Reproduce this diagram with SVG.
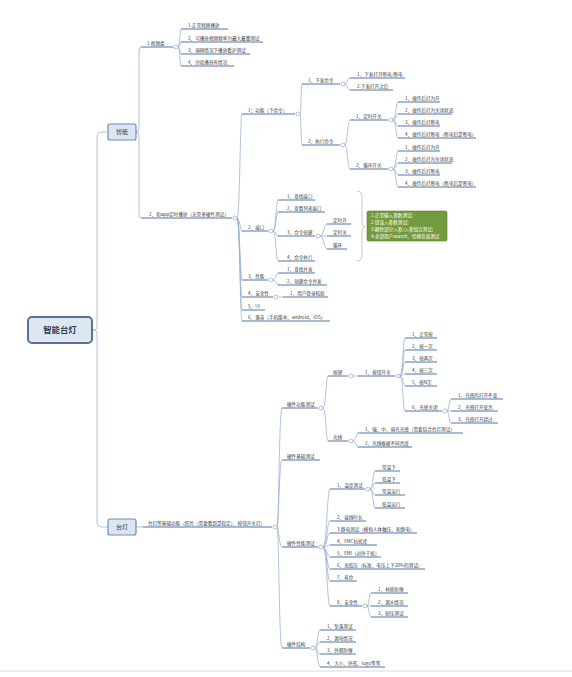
<svg xmlns="http://www.w3.org/2000/svg" width="572" height="677" viewBox="0 0 572 677">
<defs>
<style>
.t{font-family:"Noto Sans CJK SC","Liberation Sans",sans-serif;font-size:4.6px;fill:#3a3a3a}
.u{stroke:#4f74ad;stroke-width:1;fill:none}
.c{stroke:#9db2d3;stroke-width:0.8;fill:none}
.m{fill:#fff;stroke:#8a9bb5;stroke-width:0.6}
.box{fill:#dce6f3;stroke:#6f8bb3;stroke-width:1.2}
.bt{font-family:"Noto Sans CJK SC","Liberation Sans",sans-serif;font-size:6px;fill:#2f3f55;text-anchor:middle}
.ct{font-family:"Noto Sans CJK SC","Liberation Sans",sans-serif;font-size:4.6px;fill:#ffffff}
</style>
</defs>
<rect width="572" height="677" fill="#ffffff"/>
<g id="connectors">
<path class="c" d="M92,330 L94,330 Q97,330 97,326 L97,137 Q97,132 102,132 L108,132"/>
<path class="c" d="M92,330 L94,330 Q97,330 97,334 L97,522 Q97,527 102,527 L108,527"/>
<path class="c" d="M136,132 Q139,132 139,128 L139,51 Q139,47 141,47"/>
<path class="c" d="M136,132 Q139,132 139,136 L139,214 Q139,218 141,218"/>
<path class="c" d="M136,527 L143,527"/>
<path class="c" d="M178,47 C180,47 180,29 181,29"/>
<path class="c" d="M178,47 C180,47 180,42 181,42"/>
<path class="c" d="M178,47 C180,47 180,54 181,54"/>
<path class="c" d="M178,47 C180,47 180,66 181,66"/>
<path class="c" d="M237,218 C240,218 240,114 242,114"/>
<path class="c" d="M237,218 C240,218 240,231 242,231"/>
<path class="c" d="M237,218 C240,218 240,280 242,280"/>
<path class="c" d="M237,218 C240,218 240,297 242,297"/>
<path class="c" d="M237,218 C240,218 240,310 242,310"/>
<path class="c" d="M237,218 C240,218 240,321 242,321"/>
<path class="c" d="M300,114 C301,114 301,84 302,84"/>
<path class="c" d="M300,114 C301,114 301,145 302,145"/>
<path class="c" d="M345,84 C347.5,84 347.5,78 350,78"/>
<path class="c" d="M345,84 C347.5,84 347.5,90 350,90"/>
<path class="c" d="M345,145 C347.5,145 347.5,120 350,120"/>
<path class="c" d="M345,145 C347.5,145 347.5,169 350,169"/>
<path class="c" d="M393,120 C396,120 396,102 398,102"/>
<path class="c" d="M393,120 C396,120 396,114 398,114"/>
<path class="c" d="M393,120 C396,120 396,126 398,126"/>
<path class="c" d="M393,120 C396,120 396,138 398,138"/>
<path class="c" d="M393,169 C396,169 396,151 398,151"/>
<path class="c" d="M393,169 C396,169 396,163 398,163"/>
<path class="c" d="M393,169 C396,169 396,175 398,175"/>
<path class="c" d="M393,169 C396,169 396,187 398,187"/>
<path class="c" d="M273,231 C276,231 276,200 278,200"/>
<path class="c" d="M273,231 C276,231 276,212 278,212"/>
<path class="c" d="M273,231 C276,231 276,236 278,236"/>
<path class="c" d="M273,231 C276,231 276,261 278,261"/>
<path class="c" d="M320,236 C324,236 324,224 327,224"/>
<path class="c" d="M320,236 C324,236 324,236 327,236"/>
<path class="c" d="M320,236 C324,236 324,249 327,249"/>
<path class="c" d="M273,280 C276,280 276,273 278,273"/>
<path class="c" d="M273,280 C276,280 276,285 278,285"/>
<path class="c" d="M278,297 L283,297"/>
<path class="c" d="M277,527 C279,527 279,408 282,408"/>
<path class="c" d="M277,527 C279,527 279,460 282,460"/>
<path class="c" d="M277,527 C279,527 279,547 282,547"/>
<path class="c" d="M277,527 C279,527 279,648 282,648"/>
<path class="c" d="M323,408 C326,408 326,376 328,376"/>
<path class="c" d="M323,408 C326,408 326,441 328,441"/>
<path class="c" d="M353,376 L358,376"/>
<path class="c" d="M400,376 C403,376 403,338 405,338"/>
<path class="c" d="M400,376 C403,376 403,350 405,350"/>
<path class="c" d="M400,376 C403,376 403,362 405,362"/>
<path class="c" d="M400,376 C403,376 403,374 405,374"/>
<path class="c" d="M400,376 C403,376 403,386 405,386"/>
<path class="c" d="M400,376 C403,376 403,411 405,411"/>
<path class="c" d="M447,411 C449,411 449,399 451,399"/>
<path class="c" d="M447,411 C449,411 449,411 451,411"/>
<path class="c" d="M447,411 C449,411 449,423 451,423"/>
<path class="c" d="M353,441 C356,441 356,433 358,433"/>
<path class="c" d="M353,441 C356,441 356,447 358,447"/>
<path class="c" d="M323,547 C327,547 327,489 330,489"/>
<path class="c" d="M323,547 C327,547 327,521 330,521"/>
<path class="c" d="M323,547 C327,547 327,533 330,533"/>
<path class="c" d="M323,547 C327,547 327,545 330,545"/>
<path class="c" d="M323,547 C327,547 327,557 330,557"/>
<path class="c" d="M323,547 C327,547 327,569 330,569"/>
<path class="c" d="M323,547 C327,547 327,581 330,581"/>
<path class="c" d="M323,547 C327,547 327,606 330,606"/>
<path class="c" d="M370,489 C373,489 373,471 375,471"/>
<path class="c" d="M370,489 C373,489 373,483 375,483"/>
<path class="c" d="M370,489 C373,489 373,495 375,495"/>
<path class="c" d="M370,489 C373,489 373,508 375,508"/>
<path class="c" d="M367,606 C369,606 369,593 371,593"/>
<path class="c" d="M367,606 C369,606 369,606 371,606"/>
<path class="c" d="M367,606 C369,606 369,617 371,617"/>
<path class="c" d="M315,648 C317.5,648 317.5,630 320,630"/>
<path class="c" d="M315,648 C317.5,648 317.5,642 320,642"/>
<path class="c" d="M315,648 C317.5,648 317.5,654 320,654"/>
<path class="c" d="M315,648 C317.5,648 317.5,667 320,667"/>
</g>
<g id="root"><rect x="28" y="317" width="64" height="26" rx="4" fill="#dde7f2" stroke="#5b7391" stroke-width="2"/><text x="60" y="333" class="bt" style="font-size:8.4px;font-weight:bold">智能台灯</text></g>
<g id="zhineng"><rect x="108" y="124" width="28" height="16" rx="2" class="box"/><text x="122" y="134.2" class="bt">智能</text></g>
<g id="taideng"><rect x="108" y="519" width="28" height="16" rx="2" class="box"/><text x="122" y="529.2" class="bt">台灯</text></g>
<g id="video"><text x="147" y="44.6" class="t">1.视频类</text><line class="u" x1="141" y1="47" x2="173" y2="47"/><circle class="m" cx="176" cy="47" r="2"/></g>
<g id="v1"><text x="188" y="26.6" class="t">1.正常视频播放</text><line class="u" x1="181" y1="29" x2="228" y2="29"/></g>
<g id="v2"><text x="188" y="39.6" class="t">2、可播放视频频率为最大最重测试</text><line class="u" x1="181" y1="42" x2="263" y2="42"/></g>
<g id="v3"><text x="188" y="51.6" class="t">3、弱网情况下播放看护测试</text><line class="u" x1="181" y1="54" x2="250" y2="54"/></g>
<g id="v4"><text x="188" y="63.6" class="t">4、分段播放有情况</text><line class="u" x1="181" y1="66" x2="234" y2="66"/></g>
<g id="app"><text x="149" y="215.6" class="t">2、和app定时播放（无需多硬件测试）</text><line class="u" x1="141" y1="218" x2="232" y2="218"/><circle class="m" cx="235" cy="218" r="2"/></g>
<g id="func"><text x="248" y="111.6" class="t">1：功能（下命令）</text><line class="u" x1="242" y1="114" x2="295" y2="114"/><circle class="m" cx="298" cy="114" r="2"/></g>
<g id="cmd"><text x="308" y="81.6" class="t">1、下发命令</text><line class="u" x1="302" y1="84" x2="340" y2="84"/><circle class="m" cx="343" cy="84" r="2"/></g>
<g id="c1"><text x="357" y="75.6" class="t">1、下发打开断电/断电</text><line class="u" x1="350" y1="78" x2="405" y2="78"/></g>
<g id="c2"><text x="357" y="87.6" class="t">2.下发打开之后</text><line class="u" x1="350" y1="90" x2="393" y2="90"/></g>
<g id="exec"><text x="308" y="142.6" class="t">2、执行命令</text><line class="u" x1="302" y1="145" x2="340" y2="145"/><circle class="m" cx="343" cy="145" r="2"/></g>
<g id="timer"><text x="356" y="117.6" class="t">1、定时开关</text><line class="u" x1="350" y1="120" x2="388" y2="120"/><circle class="m" cx="391" cy="120" r="2"/></g>
<g id="t1"><text x="405" y="99.6" class="t">1、操作后打为开</text><line class="u" x1="398" y1="102" x2="440" y2="102"/></g>
<g id="t2"><text x="405" y="111.6" class="t">2、操作后打为关闭状态</text><line class="u" x1="398" y1="114" x2="452" y2="114"/></g>
<g id="t3"><text x="405" y="123.6" class="t">3、操作后打断电</text><line class="u" x1="398" y1="126" x2="440" y2="126"/></g>
<g id="t4"><text x="405" y="135.6" class="t">4、操作后打断电（断电后是断电）</text><line class="u" x1="398" y1="138" x2="476" y2="138"/></g>
<g id="loop"><text x="356" y="166.6" class="t">2、循环开关</text><line class="u" x1="350" y1="169" x2="388" y2="169"/><circle class="m" cx="391" cy="169" r="2"/></g>
<g id="l1"><text x="405" y="148.6" class="t">1、操作后打为开</text><line class="u" x1="398" y1="151" x2="440" y2="151"/></g>
<g id="l2"><text x="405" y="160.6" class="t">2、操作后打为关闭状态</text><line class="u" x1="398" y1="163" x2="452" y2="163"/></g>
<g id="l3"><text x="405" y="172.6" class="t">3、操作后打断电</text><line class="u" x1="398" y1="175" x2="440" y2="175"/></g>
<g id="l4"><text x="405" y="184.6" class="t">4、操作后打断电（断电后是断电）</text><line class="u" x1="398" y1="187" x2="476" y2="187"/></g>
<g id="api"><text x="248" y="228.6" class="t">2、接口</text><line class="u" x1="242" y1="231" x2="268" y2="231"/><circle class="m" cx="271" cy="231" r="2"/></g>
<g id="a1"><text x="287" y="197.6" class="t">1、查找接口</text><line class="u" x1="278" y1="200" x2="315" y2="200"/></g>
<g id="a2"><text x="287" y="209.6" class="t">2、查看列表接口</text><line class="u" x1="278" y1="212" x2="325" y2="212"/></g>
<g id="a3"><text x="287" y="233.6" class="t">3、命令创建</text><line class="u" x1="278" y1="236" x2="315" y2="236"/><circle class="m" cx="318" cy="236" r="2"/></g>
<g id="a3a"><text x="333" y="221.6" class="t">定时开</text><line class="u" x1="327" y1="224" x2="351" y2="224"/></g>
<g id="a3b"><text x="333" y="233.6" class="t">定时关</text><line class="u" x1="327" y1="236" x2="351" y2="236"/></g>
<g id="a3c"><text x="333" y="246.6" class="t">循环</text><line class="u" x1="327" y1="249" x2="347" y2="249"/></g>
<g id="a4"><text x="287" y="258.6" class="t">4、命令执行</text><line class="u" x1="278" y1="261" x2="315" y2="261"/></g>
<g id="callout">
<path d="M357,191 Q362,191 362,197 L362,222 Q362,227 365,227 Q362,227 362,232 L362,255 Q362,261 357,261" fill="none" stroke="#c8c8c8" stroke-width="1"/>
<rect x="367" y="211" width="80" height="30" rx="1.5" fill="#739a3c" stroke="#5d7f2e" stroke-width="0.6"/>
<text x="371" y="216.6" class="ct">1.正常输入参数测试;</text>
<text x="371" y="223.6" class="ct">2.错误入参数测试;</text>
<text x="371" y="230.6" class="ct">3.删除部分入参/入参组合测试;</text>
<text x="371" y="237.6" class="ct">4.全部用户search、切换页面测试</text>
</g>
<g id="perf"><text x="248" y="277.6" class="t">3、性能</text><line class="u" x1="242" y1="280" x2="268" y2="280"/><circle class="m" cx="271" cy="280" r="2"/></g>
<g id="p1"><text x="287" y="270.6" class="t">1、查找并发</text><line class="u" x1="278" y1="273" x2="315" y2="273"/></g>
<g id="p2"><text x="287" y="282.6" class="t">2、创建命令并发</text><line class="u" x1="278" y1="285" x2="327" y2="285"/></g>
<g id="sec"><text x="248" y="294.6" class="t">4、安全性</text><line class="u" x1="242" y1="297" x2="273" y2="297"/><circle class="m" cx="276" cy="297" r="2"/></g>
<g id="s1"><text x="290" y="294.6" class="t">1、用户登录校验</text><line class="u" x1="283" y1="297" x2="328" y2="297"/></g>
<g id="ui"><text x="248" y="307.6" class="t">5、UI</text><line class="u" x1="242" y1="310" x2="265" y2="310"/></g>
<g id="compat"><text x="248" y="318.6" class="t">6、兼容（手机版本、android、iOS）</text><line class="u" x1="242" y1="321" x2="330" y2="321"/></g>
<g id="base"><text x="148" y="524.6" class="t">台灯所基础功能（照亮（需要看到是稳定）、按钮开关灯）</text><line class="u" x1="143" y1="527" x2="272" y2="527"/><circle class="m" cx="275" cy="527" r="2"/></g>
<g id="hwfunc"><text x="287" y="405.6" class="t">硬件功能测试</text><line class="u" x1="282" y1="408" x2="318" y2="408"/><circle class="m" cx="321" cy="408" r="2"/></g>
<g id="btn"><text x="333" y="373.6" class="t">按键</text><line class="u" x1="328" y1="376" x2="348" y2="376"/><circle class="m" cx="351" cy="376" r="2"/></g>
<g id="btnsw"><text x="365" y="373.6" class="t">1、按钮开关</text><line class="u" x1="358" y1="376" x2="395" y2="376"/><circle class="m" cx="398" cy="376" r="2"/></g>
<g id="b1"><text x="412" y="335.6" class="t">1、正常按</text><line class="u" x1="405" y1="338" x2="437" y2="338"/></g>
<g id="b2"><text x="412" y="347.6" class="t">2、按一次</text><line class="u" x1="405" y1="350" x2="437" y2="350"/></g>
<g id="b3"><text x="412" y="359.6" class="t">3、按两次</text><line class="u" x1="405" y1="362" x2="437" y2="362"/></g>
<g id="b4"><text x="412" y="371.6" class="t">4、按三次</text><line class="u" x1="405" y1="374" x2="437" y2="374"/></g>
<g id="b5"><text x="412" y="383.6" class="t">5、按N次</text><line class="u" x1="405" y1="386" x2="437" y2="386"/></g>
<g id="b6"><text x="412" y="408.6" class="t">6、光感关闭</text><line class="u" x1="405" y1="411" x2="442" y2="411"/><circle class="m" cx="445" cy="411" r="2"/></g>
<g id="g1"><text x="458" y="396.6" class="t">1、光感的打开不变</text><line class="u" x1="451" y1="399" x2="503" y2="399"/></g>
<g id="g2"><text x="458" y="408.6" class="t">2、光感打开变亮</text><line class="u" x1="451" y1="411" x2="498" y2="411"/></g>
<g id="g3"><text x="458" y="420.6" class="t">3、光感打开超过</text><line class="u" x1="451" y1="423" x2="498" y2="423"/></g>
<g id="light"><text x="333" y="438.6" class="t">光线</text><line class="u" x1="328" y1="441" x2="348" y2="441"/><circle class="m" cx="351" cy="441" r="2"/></g>
<g id="li1"><text x="365" y="430.6" class="t">1、强、中、弱光光感（需要结合台灯测试）</text><line class="u" x1="358" y1="433" x2="463" y2="433"/></g>
<g id="li2"><text x="365" y="444.6" class="t">2、光线根据不同亮度</text><line class="u" x1="358" y1="447" x2="412" y2="447"/></g>
<g id="hwbase"><text x="287" y="457.6" class="t">硬件基础测试</text><line class="u" x1="282" y1="460" x2="320" y2="460"/></g>
<g id="hwperf"><text x="287" y="544.6" class="t">硬件性能测试</text><line class="u" x1="282" y1="547" x2="318" y2="547"/><circle class="m" cx="321" cy="547" r="2"/></g>
<g id="temp"><text x="337" y="486.6" class="t">1、温度测试</text><line class="u" x1="330" y1="489" x2="365" y2="489"/><circle class="m" cx="368" cy="489" r="2"/></g>
<g id="tp1"><text x="382" y="468.6" class="t">常温下</text><line class="u" x1="375" y1="471" x2="400" y2="471"/></g>
<g id="tp2"><text x="382" y="480.6" class="t">低温下</text><line class="u" x1="375" y1="483" x2="400" y2="483"/></g>
<g id="tp3"><text x="382" y="492.6" class="t">常温运行</text><line class="u" x1="375" y1="495" x2="405" y2="495"/></g>
<g id="tp4"><text x="382" y="505.6" class="t">低温运行</text><line class="u" x1="375" y1="508" x2="405" y2="508"/></g>
<g id="hp2"><text x="337" y="518.6" class="t">2、接线时长</text><line class="u" x1="330" y1="521" x2="366" y2="521"/></g>
<g id="hp3"><text x="337" y="530.6" class="t">3.静电测试（模拟人体触压、和静电）</text><line class="u" x1="330" y1="533" x2="417" y2="533"/></g>
<g id="hp4"><text x="337" y="542.6" class="t">4、EMC抗扰度</text><line class="u" x1="330" y1="545" x2="377" y2="545"/></g>
<g id="hp5"><text x="337" y="554.6" class="t">5、EMI（对外干扰）</text><line class="u" x1="330" y1="557" x2="381" y2="557"/></g>
<g id="hp6"><text x="337" y="566.6" class="t">6、高低压（标准、电压上下20%的测试）</text><line class="u" x1="330" y1="569" x2="425" y2="569"/></g>
<g id="hp7"><text x="337" y="578.6" class="t">7、寿命</text><line class="u" x1="330" y1="581" x2="357" y2="581"/></g>
<g id="safety"><text x="337" y="603.6" class="t">8、安全性</text><line class="u" x1="330" y1="606" x2="362" y2="606"/><circle class="m" cx="365" cy="606" r="2"/></g>
<g id="sf1"><text x="378" y="590.6" class="t">1、材质防爆</text><line class="u" x1="371" y1="593" x2="408" y2="593"/></g>
<g id="sf2"><text x="378" y="603.6" class="t">2、漏水情况</text><line class="u" x1="371" y1="606" x2="408" y2="606"/></g>
<g id="sf3"><text x="378" y="614.6" class="t">3、耐压测试</text><line class="u" x1="371" y1="617" x2="408" y2="617"/></g>
<g id="struct"><text x="287" y="645.6" class="t">硬件结构</text><line class="u" x1="282" y1="648" x2="310" y2="648"/><circle class="m" cx="313" cy="648" r="2"/></g>
<g id="st1"><text x="327" y="627.6" class="t">1、坠落测试</text><line class="u" x1="320" y1="630" x2="356" y2="630"/></g>
<g id="st2"><text x="327" y="639.6" class="t">2、漏电情况</text><line class="u" x1="320" y1="642" x2="356" y2="642"/></g>
<g id="st3"><text x="327" y="651.6" class="t">3、外观防爆</text><line class="u" x1="320" y1="654" x2="356" y2="654"/></g>
<g id="st4"><text x="327" y="664.6" class="t">4、大小、外形、logo等等</text><line class="u" x1="320" y1="667" x2="385" y2="667"/></g>
<line x1="0" y1="671" x2="572" y2="671" stroke="#dcdcdc" stroke-width="1"/>
</svg>
